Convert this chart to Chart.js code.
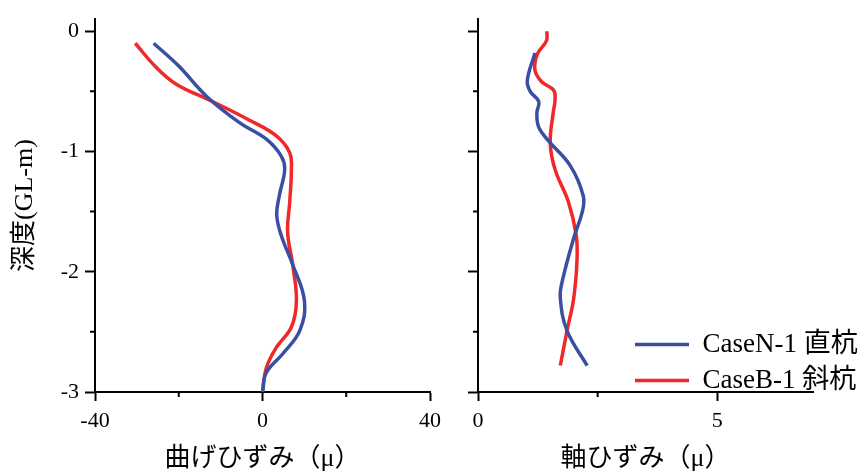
<!DOCTYPE html>
<html>
<head>
<meta charset="utf-8">
<script src="https://cdn.jsdelivr.net/npm/chart.js@4/dist/chart.umd.min.js"></script>
<style>
  body { margin: 0; background: #fff; }
  #wrap { position: relative; width: 866px; height: 475px; }
  canvas { position: absolute; top: 0; }
</style>
</head>
<body>
<div id="wrap">
  <canvas id="left" width="450" height="475" style="left:0"></canvas>
  <canvas id="right" width="416" height="475" style="left:450px"></canvas>
</div>
<script>
// depth (GL-m)
const depthTicks = [0, -1, -2, -3];
const depthMinor = [-0.5, -1.5, -2.5];

// 曲げひずみ - CaseN-1 直杭
const bendN_x = [-26, -20, -13.4, -5.5, 1, 4.5, 5.3, 4, 3.4, 4.5, 7.2, 10, 8.9, 4.9, 0.9, 0];
const bendN_y = [-0.1, -0.29, -0.54, -0.76, -0.9, -1.04, -1.15, -1.37, -1.53, -1.7, -1.94, -2.24, -2.49, -2.68, -2.84, -3];
// 曲げひずみ - CaseB-1 斜杭
const bendB_x = [-30.4, -25.4, -20.6, -12.2, -3.1, 3.3, 6.5, 6.9, 6.5, 6.0, 7.2, 8.1, 6.9, 3.3, 0.9, 0];
const bendB_y = [-0.1, -0.3, -0.44, -0.58, -0.74, -0.87, -1.01, -1.15, -1.42, -1.67, -1.94, -2.24, -2.46, -2.63, -2.8, -3];

// 軸ひずみ - CaseN-1 直杭
const axN_x = [1.19, 1.03, 1.09, 1.27, 1.23, 1.27, 1.47, 1.93, 2.2, 2.18, 2.0, 1.76, 1.72, 1.86, 2.28];
const axN_y = [-0.18, -0.41, -0.5, -0.585, -0.68, -0.8, -0.91, -1.12, -1.37, -1.5, -1.72, -2.08, -2.22, -2.49, -2.78];
// 軸ひずみ - CaseB-1 斜杭
const axB_x = [1.44, 1.43, 1.24, 1.19, 1.33, 1.58, 1.61, 1.57, 1.51, 1.61, 1.89, 2.05, 2.07, 2.0, 1.86, 1.72];
const axB_y = [0.0, -0.08, -0.19, -0.325, -0.42, -0.49, -0.57, -0.68, -0.93, -1.15, -1.42, -1.69, -1.89, -2.22, -2.49, -2.78];

const bendTicks = [-40, 0, 40];
const bendMinor = [-20, 20];
const axTicks = [0, 5];
const axMinor = [2.5];

const seriesNames = ['CaseN-1 直杭', 'CaseB-1 斜杭'];
const blue = '#3a4fa3';
const red = '#f0282a';

const serif = "'Liberation Serif', 'Noto Sans CJK JP', serif";

function pts(xs, ys) {
  return xs.map((x, i) => ({ x: x, y: ys[i] }));
}

function line(label, data, color) {
  return {
    label: label,
    data: data,
    showLine: true,
    borderColor: color,
    backgroundColor: color,
    borderWidth: 3.5,
    pointRadius: 0,
    tension: 0.4
  };
}

// short minor ticks (Chart.js has no minor ticks)
const minorTicks = {
  id: 'minorTicks',
  afterDraw(chart, args, opts) {
    const ctx = chart.ctx;
    const xs = chart.scales.x, ys = chart.scales.y;
    ctx.save();
    ctx.strokeStyle = '#000';
    ctx.lineWidth = 2;
    ctx.beginPath();
    opts.x.forEach(v => {
      const p = xs.getPixelForValue(v);
      ctx.moveTo(p, xs.top);
      ctx.lineTo(p, xs.top + 5);
    });
    opts.y.forEach(v => {
      const p = ys.getPixelForValue(v);
      ctx.moveTo(ys.right - 5, p);
      ctx.lineTo(ys.right, p);
    });
    ctx.stroke();
    ctx.restore();
  }
};

// put the legend at the lower right, over the axis like the original
const moveLegend = {
  id: 'moveLegend',
  beforeDraw(chart, args, opts) {
    const lg = chart.legend;
    if (!lg || !opts.left) return;
    const w = lg.width, h = lg.height;
    lg.left = opts.left;
    lg.top = opts.top;
    lg.right = opts.left + w;
    lg.bottom = opts.top + h;
  }
};

function makeOptions(xMin, xMax, xTicks, xMinor, xTitle, yWidth, padRight, showYLabels, legendOn) {
  return {
    responsive: false,
    animation: false,
    layout: { padding: { top: 15, right: padRight, left: 0, bottom: 0 } },
    plugins: {
      tooltip: { enabled: false },
      legend: {
        display: legendOn,
        position: 'chartArea',
        align: 'start',
        labels: {
          usePointStyle: true,
          pointStyle: 'line',
          pointStyleWidth: 54,
          padding: 9,
          color: '#000',
          font: { family: serif, size: 27, lineHeight: 1.15 }
        }
      },
      minorTicks: { x: xMinor, y: depthMinor }
    },
    scales: {
      x: {
        type: 'linear',
        min: xMin,
        max: xMax,
        afterBuildTicks: s => { s.ticks = xTicks.map(v => ({ value: v })); },
        afterFit: s => { s.height = 83; },
        border: { display: true, color: '#000', width: 2 },
        grid: { drawOnChartArea: false, drawTicks: true, tickLength: 9, tickWidth: 2, tickColor: '#000' },
        ticks: { color: '#000', padding: 7, maxRotation: 0, font: { family: serif, size: 22 } },
        title: {
          display: true,
          text: xTitle,
          color: '#000',
          padding: { top: 0, bottom: 0 },
          font: { family: serif, size: 26, lineHeight: 1.2 }
        }
      },
      y: {
        type: 'linear',
        min: -3,
        max: 0.1,
        afterBuildTicks: s => { s.ticks = depthTicks.map(v => ({ value: v })); },
        afterFit: s => { s.width = yWidth; },
        border: { display: true, color: '#000', width: 2 },
        grid: { drawOnChartArea: false, drawTicks: true, tickLength: 10, tickWidth: 2, tickColor: '#000' },
        ticks: {
          color: '#000',
          padding: 6,
          font: { family: serif, size: 22 },
          callback: v => showYLabels ? String(v) : ''
        },
        title: {
          display: showYLabels,
          text: '深度(GL-m)',
          color: '#000',
          padding: { top: 10, bottom: 0 },
          font: { family: serif, size: 26, lineHeight: 1.2 }
        }
      }
    }
  };
}

new Chart(document.getElementById('left'), {
  type: 'scatter',
  data: {
    datasets: [
      line(seriesNames[0], pts(bendN_x, bendN_y), blue),
      line(seriesNames[1], pts(bendB_x, bendB_y), red)
    ]
  },
  options: makeOptions(-40, 40, bendTicks, bendMinor, '曲げひずみ（μ）', 95, 20, true, false),
  plugins: [minorTicks]
});

new Chart(document.getElementById('right'), {
  type: 'scatter',
  data: {
    datasets: [
      line(seriesNames[0], pts(axN_x, axN_y), blue),
      line(seriesNames[1], pts(axB_x, axB_y), red)
    ]
  },
  options: (() => {
    const o = makeOptions(0, 7, axTicks, axMinor, '軸ひずみ（μ）', 28, 53, false, true);
    o.plugins.moveLegend = { left: 626 - 450, top: 322 };
    return o;
  })(),
  plugins: [minorTicks, moveLegend]
});
</script>
</body>
</html>
